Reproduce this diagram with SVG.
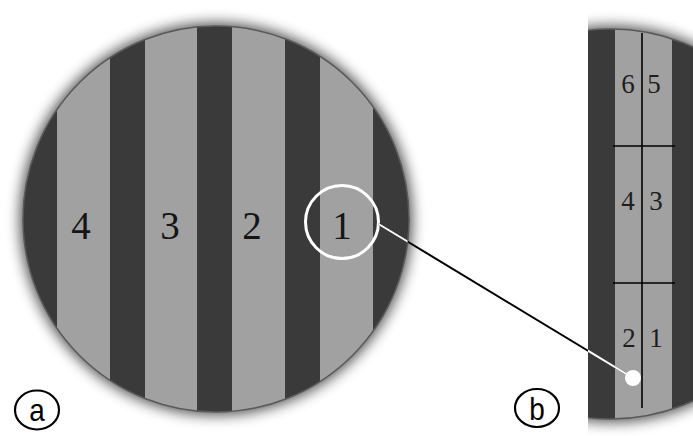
<svg xmlns="http://www.w3.org/2000/svg" width="693" height="436" viewBox="0 0 693 436">
  <style>
    .dark { fill: #3a3a3a; }
    .light { fill: #a1a1a1; }
    .rim { fill: none; stroke: #5a5a5a; stroke-width: 1.5; }
    .bignum { font-family: "Liberation Serif", "Times New Roman", serif; font-size: 39px; fill: #151515; text-anchor: middle; }
    .smallnum { font-family: "Liberation Serif", "Times New Roman", serif; font-size: 27px; fill: #1e1e1e; text-anchor: middle; }
    .grid { stroke: #000; stroke-width: 1.6; fill: none; }
    .tag { fill: #fff; stroke: #000; stroke-width: 2.2; }
    .tagtext { font-family: "Liberation Sans", Arial, sans-serif; font-size: 31px; fill: #000; text-anchor: middle; }
  </style>
  <defs>
    <filter id="halo" x="-20%" y="-20%" width="140%" height="140%">
      <feGaussianBlur stdDeviation="7"/>
    </filter>
    <clipPath id="clipA">
      <circle cx="216" cy="219" r="193"/>
    </clipPath>
    <clipPath id="clipB">
      <rect x="588" y="0" width="105" height="436"/>
    </clipPath>
    <clipPath id="clipBcircle">
      <circle cx="611" cy="224" r="195"/>
    </clipPath>
  </defs>

  <rect width="693" height="436" fill="#fff"/>

  <g id="lens-a">
    <circle cx="216" cy="219" r="196" fill="#000" opacity="0.7" filter="url(#halo)"/>
    <circle class="dark" cx="216" cy="219" r="193"/>
    <g clip-path="url(#clipA)">
      <rect class="light" x="57" y="0" width="53" height="436"/>
      <rect class="light" x="145" y="0" width="52" height="436"/>
      <rect class="light" x="232" y="0" width="53" height="436"/>
      <rect class="light" x="320" y="0" width="53" height="436"/>
    </g>
    <circle class="rim" cx="216" cy="219" r="193"/>
    <text class="bignum" x="81" y="239">4</text>
    <text class="bignum" x="170" y="239">3</text>
    <text class="bignum" x="252" y="239">2</text>
    <text class="bignum" x="342" y="239">1</text>
  </g>

  <g id="lens-b" clip-path="url(#clipB)">
    <circle cx="611" cy="224" r="198" fill="#000" opacity="0.7" filter="url(#halo)"/>
    <circle class="dark" cx="611" cy="224" r="195"/>
    <g clip-path="url(#clipBcircle)">
      <rect class="light" x="615" y="0" width="57" height="436"/>
    </g>
    <circle class="rim" cx="611" cy="224" r="195"/>
    <line class="grid" x1="642" y1="33" x2="642" y2="408"/>
    <line class="grid" x1="613" y1="146" x2="675" y2="146"/>
    <line class="grid" x1="613" y1="283" x2="675" y2="283"/>
    <text class="smallnum" x="628" y="93">6</text>
    <text class="smallnum" x="654" y="93">5</text>
    <text class="smallnum" x="628" y="210">4</text>
    <text class="smallnum" x="656" y="210">3</text>
    <text class="smallnum" x="629" y="347">2</text>
    <text class="smallnum" x="656" y="347">1</text>
  </g>

  <g id="highlight">
    <circle cx="342" cy="222" r="36.5" fill="none" stroke="#fff" stroke-width="3"/>
  </g>

  <g id="connectors">
    <line x1="378.5" y1="224" x2="633" y2="378" stroke="#000" stroke-width="2"/>
    <line x1="378.5" y1="224" x2="633" y2="378" stroke="#fff" stroke-width="2" clip-path="url(#clipA)"/>
    <g clip-path="url(#clipB)">
      <line x1="378.5" y1="224" x2="633" y2="378" stroke="#fff" stroke-width="2" clip-path="url(#clipBcircle)"/>
    </g>
    <circle cx="633" cy="378" r="8" fill="#fff"/>
  </g>

  <g id="label-a">
    <ellipse class="tag" cx="37" cy="410" rx="22" ry="19.5"/>
    <text class="tagtext" x="37" y="421" transform="translate(37 0) scale(0.9 1) translate(-37 0)">a</text>
  </g>

  <g id="label-b">
    <ellipse class="tag" cx="537" cy="408" rx="22" ry="19"/>
    <text class="tagtext" x="537" y="420" transform="translate(537 0) scale(0.9 1) translate(-537 0)">b</text>
  </g>
</svg>
